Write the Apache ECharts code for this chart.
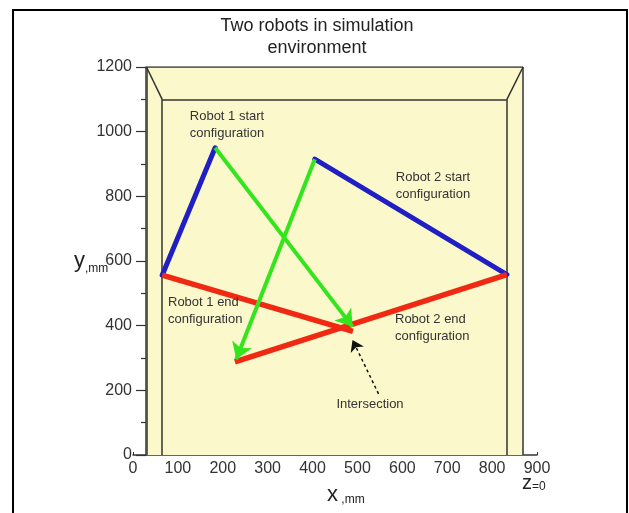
<!DOCTYPE html>
<html>
<head>
<meta charset="utf-8">
<script src="https://cdn.jsdelivr.net/npm/echarts@6/dist/echarts.min.js"></script>
<style>
  html, body { margin: 0; padding: 0; background: #fff; }
  #chart { width: 629px; height: 513px; }
</style>
</head>
<body>
<div id="chart"></div>
<script>
// values in mm
const xTicks = [0, 100, 200, 300, 400, 500, 600, 700, 800, 900]
const yTicks = [0, 200, 400, 600, 800, 1000, 1200]

// simulation box: outer wall and inner (back) wall
const boxOuter = { left: 30, right: 869, top: 1200 }
const boxInner = { left: 65, right: 833, top: 1100 }

const robot1Base = [65, 556]
const robot1Start = [183, 950]
const robot1End = [490, 382]
const robot1Path = [183, 950, 489, 397]   // green arrow: from, to

const robot2Base = [833, 558]
const robot2Start = [405, 915]
const robot2End = [227, 288]
const robot2Path = [405, 915, 230, 296]

const intersectionArrow = [547, 189, 489, 356]

const font = 'Liberation Sans, Arial, sans-serif'
const ink = '#333'

const chart = echarts.init(document.getElementById('chart'))

const boxLines = [
  [[boxOuter.left, 0], [boxOuter.left, boxOuter.top]],
  [[boxOuter.left, boxOuter.top], [boxOuter.right, boxOuter.top]],
  [[boxOuter.right, boxOuter.top], [boxOuter.right, 0]],
  [[boxInner.left, 0], [boxInner.left, boxInner.top]],
  [[boxInner.left, boxInner.top], [boxInner.right, boxInner.top]],
  [[boxInner.right, boxInner.top], [boxInner.right, 0]],
  [[boxOuter.left, boxOuter.top], [boxInner.left, boxInner.top]],
  [[boxOuter.right, boxOuter.top], [boxInner.right, boxInner.top]]
].map(c => ({ coords: c }))

chart.setOption({
  animation: false,
  grid: { left: 133, right: 92, top: 67, bottom: 58 },
  xAxis: {
    type: 'value', min: 0, max: 900, interval: 100,
    axisLine: { lineStyle: { color: ink, width: 1.5 } },
    axisTick: { inside: true, length: 3, lineStyle: { color: ink } },
    splitLine: { show: false },
    axisLabel: {
      color: ink, fontSize: 16, fontFamily: font, margin: 6,
      formatter: v => xTicks.includes(v) ? String(v) : ''
    }
  },
  yAxis: {
    type: 'value', min: 0, max: 1200, interval: 200, offset: -13,
    axisLine: { show: true, lineStyle: { color: ink, width: 1.5 } },
    axisTick: { show: true, length: 10, lineStyle: { color: ink, width: 1.2 } },
    minorTick: { show: true, splitNumber: 2, length: 5, lineStyle: { color: ink, width: 1.2 } },
    splitLine: { show: false },
    axisLabel: {
      color: ink, fontSize: 16, fontFamily: font, margin: 14,
      formatter: v => yTicks.includes(v) ? String(v) : ''
    }
  },
  series: [
    {
      type: 'lines', coordinateSystem: 'cartesian2d', silent: true, z: 1,
      lineStyle: { color: ink, width: 1.5, opacity: 1 },
      data: boxLines,
      markArea: {
        silent: true,
        itemStyle: { color: '#FBF8CC' },
        data: [[{ coord: [boxOuter.left, 0] }, { coord: [boxOuter.right, boxOuter.top] }]]
      }
    },
    {
      // start configurations
      type: 'lines', coordinateSystem: 'cartesian2d', silent: true, z: 3,
      lineStyle: { color: '#1f1fc4', width: 5, opacity: 1, cap: 'round' },
      data: [{ coords: [robot1Base, robot1Start] }, { coords: [robot2Base, robot2Start] }]
    },
    {
      // end configurations
      type: 'lines', coordinateSystem: 'cartesian2d', silent: true, z: 3,
      lineStyle: { color: '#f02a12', width: 5.5, opacity: 1 },
      data: [{ coords: [robot1Base, robot1End] }, { coords: [robot2Base, robot2End] }]
    },
    {
      // motion of the end points
      type: 'lines', coordinateSystem: 'cartesian2d', silent: true, z: 4,
      symbol: ['none', 'arrow'], symbolSize: [8, 16],
      lineStyle: { color: '#33e51c', width: 4, opacity: 1 },
      data: [
        { coords: [robot1Path.slice(0, 2), robot1Path.slice(2)] },
        { coords: [robot2Path.slice(0, 2), robot2Path.slice(2)] }
      ]
    },
    {
      type: 'lines', coordinateSystem: 'cartesian2d', silent: true, z: 4,
      symbol: ['none', 'arrow'], symbolSize: [7, 11],
      lineStyle: { color: '#111', width: 1.5, type: [3, 3], opacity: 1 },
      data: [{ coords: [intersectionArrow.slice(0, 2), intersectionArrow.slice(2)] }]
    }
  ],
  graphic: [
    {
      type: 'rect', silent: true,
      shape: { x: 13, y: 10, width: 614, height: 520 },
      style: { fill: null, stroke: '#000', lineWidth: 2 }
    },
    {
      type: 'text', x: 317, y: 15,
      style: {
        text: 'Two robots in simulation\nenvironment', align: 'center',
        font: '18px ' + font, lineHeight: 22, fill: '#222'
      }
    },
    {
      type: 'text', x: 227, y: 108, z: 10,
      style: { text: 'Robot 1 start\nconfiguration', align: 'center', font: '13px ' + font, lineHeight: 17, fill: ink }
    },
    {
      type: 'text', x: 433, y: 169, z: 10,
      style: { text: 'Robot 2 start\nconfiguration', align: 'center', font: '13px ' + font, lineHeight: 17, fill: ink }
    },
    {
      type: 'text', x: 168, y: 294, z: 10,
      style: { text: 'Robot 1 end\nconfiguration', align: 'left', font: '13px ' + font, lineHeight: 17, fill: ink }
    },
    {
      type: 'text', x: 395, y: 311, z: 10,
      style: { text: 'Robot 2 end\nconfiguration', align: 'left', font: '13px ' + font, lineHeight: 17, fill: ink }
    },
    {
      type: 'text', x: 370, y: 398, z: 10,
      style: { text: 'Intersection', align: 'center', font: '13px ' + font, fill: ink }
    },
    {
      type: 'text', x: 74, y: 250,
      style: {
        text: '{a|y}{b|,mm}',
        rich: {
          a: { fontSize: 22, fontFamily: font, fill: '#222', verticalAlign: 'bottom' },
          b: { fontSize: 12, fontFamily: font, fill: '#222', verticalAlign: 'bottom', padding: [0, 0, -3, 0] }
        }
      }
    },
    {
      type: 'text', x: 327, y: 484,
      style: {
        text: '{a|x}{b| ,mm}',
        rich: {
          a: { fontSize: 22, fontFamily: font, fill: '#222', verticalAlign: 'bottom' },
          b: { fontSize: 12, fontFamily: font, fill: '#222', verticalAlign: 'bottom' }
        }
      }
    },
    {
      type: 'text', x: 522, y: 473,
      style: {
        text: '{a|z}{b|=0}',
        rich: {
          a: { fontSize: 20, fontFamily: font, fill: '#222', verticalAlign: 'bottom' },
          b: { fontSize: 12, fontFamily: font, fill: '#222', verticalAlign: 'bottom' }
        }
      }
    }
  ]
})
</script>
</body>
</html>
